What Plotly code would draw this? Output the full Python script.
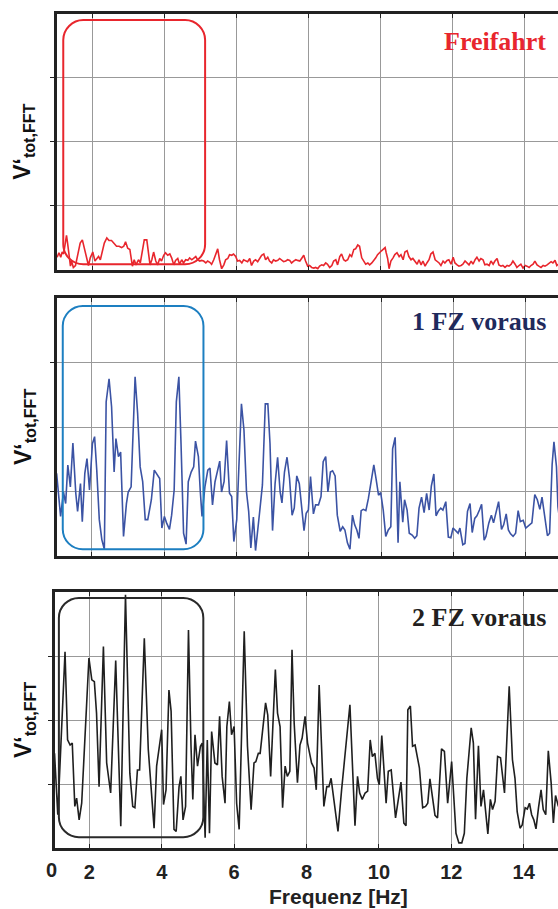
import plotly.graph_objects as go

W, H = 558, 909

# ---------------- data (frequency in Hz, amplitude in arbitrary units) ----------------
freifahrt = [(1.01,0.20),(1.06,0.27),(1.11,0.20),(1.15,0.28),(1.19,0.25),(1.23,0.39),(1.27,0.54),(1.30,0.42),(1.34,0.19),(1.38,0.06),
(1.41,0.14),(1.46,0.04),(1.52,0.07),(1.60,0.29),(1.65,0.42),(1.71,0.47),(1.77,0.34),(1.83,0.19),(1.88,0.07),(1.93,0.19),
(2.00,0.28),(2.06,0.14),(2.12,0.18),(2.16,0.21),(2.21,0.16),(2.27,0.32),(2.32,0.42),(2.39,0.50),(2.45,0.46),(2.52,0.46),
(2.59,0.42),(2.66,0.37),(2.73,0.37),(2.80,0.35),(2.86,0.37),(2.91,0.44),(2.97,0.34),(3.03,0.32),(3.10,0.06),(3.15,0.16),
(3.20,0.08),(3.27,0.16),(3.32,0.11),(3.38,0.32),(3.43,0.47),(3.50,0.47),(3.54,0.27),(3.59,0.08),(3.64,0.16),(3.69,0.28),
(3.75,0.14),(3.80,0.08),(3.86,0.18),(3.91,0.14),(3.97,0.23),(4.02,0.27),(4.08,0.23),(4.14,0.25),(4.19,0.19),(4.25,0.08),
(4.30,0.15),(4.36,0.18),(4.41,0.09),(4.47,0.16),(4.52,0.11),(4.58,0.16),(4.64,0.15),(4.69,0.19),(4.75,0.16),(4.80,0.18),
(4.86,0.21),(4.91,0.16),(4.97,0.14),(5.02,0.15),(5.08,0.14),(5.14,0.11),(5.19,0.14),(5.25,0.12),(5.30,0.09),(5.36,0.16),
(5.41,0.23),(5.47,0.33),(5.52,0.16),(5.58,0.02),(5.64,0.08),(5.69,0.16),(5.75,0.18),(5.80,0.24),(5.86,0.23),(5.91,0.25),
(5.97,0.21),(6.02,0.14),(6.08,0.15),(6.14,0.11),(6.19,0.16),(6.25,0.14),(6.30,0.13),(6.36,0.18),(6.41,0.07),(6.47,0.14),
(6.52,0.16),(6.58,0.13),(6.64,0.19),(6.69,0.23),(6.75,0.25),(6.80,0.16),(6.86,0.20),(6.91,0.14),(6.97,0.11),(7.02,0.16),
(7.08,0.14),(7.14,0.15),(7.19,0.18),(7.25,0.15),(7.30,0.13),(7.36,0.14),(7.41,0.16),(7.47,0.15),(7.52,0.11),(7.58,0.14),
(7.64,0.16),(7.69,0.15),(7.75,0.14),(7.80,0.18),(7.86,0.23),(7.91,0.14),(7.97,0.06),(8.02,0.07),(8.08,0.04),(8.14,0.03),
(8.19,0.04),(8.25,0.02),(8.30,0.06),(8.36,0.08),(8.41,0.07),(8.47,0.11),(8.52,0.09),(8.58,0.04),(8.64,0.07),(8.69,0.14),
(8.75,0.16),(8.80,0.08),(8.86,0.21),(8.91,0.25),(8.97,0.16),(9.02,0.14),(9.08,0.16),(9.14,0.24),(9.19,0.21),(9.25,0.32),
(9.30,0.33),(9.36,0.39),(9.41,0.37),(9.47,0.19),(9.52,0.14),(9.58,0.09),(9.64,0.11),(9.69,0.08),(9.75,0.11),(9.80,0.14),
(9.86,0.19),(9.91,0.24),(9.97,0.28),(10.02,0.30),(10.08,0.33),(10.12,0.35),(10.15,0.27),(10.19,0.18),(10.23,0.02),(10.28,0.14),
(10.34,0.19),(10.39,0.24),(10.45,0.27),(10.51,0.21),(10.56,0.24),(10.62,0.16),(10.67,0.28),(10.73,0.30),(10.78,0.21),(10.84,0.16),
(10.89,0.18),(10.95,0.14),(11.01,0.09),(11.06,0.16),(11.12,0.08),(11.17,0.14),(11.23,0.06),(11.28,0.11),(11.34,0.16),(11.39,0.25),
(11.45,0.28),(11.51,0.16),(11.56,0.14),(11.62,0.11),(11.67,0.07),(11.73,0.14),(11.78,0.11),(11.84,0.15),(11.89,0.16),(11.95,0.09),
(12.01,0.20),(12.06,0.11),(12.12,0.08),(12.17,0.06),(12.23,0.07),(12.28,0.09),(12.34,0.14),(12.39,0.11),(12.45,0.08),(12.51,0.14),
(12.56,0.09),(12.62,0.16),(12.67,0.20),(12.73,0.14),(12.78,0.18),(12.84,0.16),(12.89,0.08),(12.95,0.09),(13.01,0.07),(13.06,0.14),
(13.12,0.09),(13.17,0.14),(13.23,0.18),(13.28,0.08),(13.34,0.06),(13.39,0.07),(13.45,0.04),(13.51,0.07),(13.56,0.06),(13.62,0.09),
(13.67,0.14),(13.73,0.09),(13.78,0.04),(13.84,0.07),(13.89,0.09),(13.95,0.03),(14.01,0.07),(14.06,0.06),(14.12,0.04),(14.17,0.07),
(14.23,0.09),(14.28,0.14),(14.34,0.08),(14.39,0.06),(14.45,0.04),(14.51,0.07),(14.56,0.06),(14.62,0.08),(14.67,0.11),(14.73,0.13),
(14.78,0.11),(14.84,0.15),(14.89,0.07),(14.95,0.10)]

fz1_voraus = [(1.03,1.28),(1.10,0.87),(1.14,0.61),(1.22,0.99),(1.28,0.81),(1.34,1.41),(1.41,1.07),(1.48,1.75),(1.56,0.97),(1.61,0.69),
(1.69,1.12),(1.74,0.53),(1.81,1.28),(1.87,1.51),(1.94,1.02),(2.02,1.74),(2.08,1.85),(2.14,1.33),(2.21,0.56),(2.28,0.25),
(2.35,0.10),(2.40,2.39),(2.48,2.75),(2.55,2.31),(2.62,1.30),(2.67,1.82),(2.74,1.54),(2.80,1.61),(2.88,0.30),(2.96,0.81),
(3.01,0.99),(3.09,1.07),(3.20,2.78),(3.27,2.21),(3.34,1.38),(3.41,1.15),(3.48,0.56),(3.55,0.56),(3.65,0.87),(3.73,1.33),
(3.81,1.25),(3.88,1.20),(3.94,0.43),(4.01,0.61),(4.07,0.51),(4.15,0.41),(4.21,0.63),(4.28,1.02),(4.34,2.39),(4.41,2.78),
(4.47,1.74),(4.54,0.35),(4.61,0.18),(4.67,1.15),(4.75,1.30),(4.82,1.38),(4.87,1.78),(4.95,1.54),(5.00,1.02),(5.05,0.61),
(5.13,1.07),(5.21,1.33),(5.27,1.36),(5.34,0.79),(5.41,1.15),(5.46,1.28),(5.54,1.47),(5.59,0.99),(5.66,1.15),(5.73,1.79),
(5.81,0.97),(5.87,0.92),(5.93,0.22),(6.01,0.56),(6.07,1.54),(6.14,2.36),(6.21,1.95),(6.28,0.99),(6.34,0.69),(6.40,0.12),
(6.47,0.60),(6.53,0.08),(6.64,0.66),(6.72,1.10),(6.80,2.36),(6.87,2.36),(6.93,1.74),(7.00,0.39),(7.07,1.12),(7.14,1.53),
(7.21,0.99),(7.26,0.82),(7.33,1.30),(7.40,1.53),(7.47,1.20),(7.54,0.63),(7.60,0.74),(7.67,1.24),(7.74,1.12),(7.81,0.69),
(7.87,0.39),(7.93,0.66),(7.99,0.71),(8.05,1.23),(8.13,0.65),(8.19,0.79),(8.27,0.79),(8.34,0.92),(8.40,1.46),(8.47,1.54),
(8.53,0.99),(8.60,1.30),(8.66,1.32),(8.73,1.24),(8.79,0.63),(8.87,0.38),(8.94,0.45),(9.00,0.40),(9.07,0.20),(9.14,0.10),
(9.21,0.63),(9.27,0.48),(9.33,0.40),(9.39,0.27),(9.45,0.70),(9.51,0.72),(9.58,0.70),(9.65,0.89),(9.72,1.15),(9.80,1.41),
(9.86,1.20),(9.93,0.94),(9.99,0.98),(10.06,0.71),(10.13,0.30),(10.20,0.40),(10.27,0.45),(10.32,1.66),(10.39,1.84),(10.47,0.20),
(10.52,1.15),(10.60,0.52),(10.65,0.87),(10.72,0.71),(10.78,0.35),(10.86,0.32),(10.93,0.27),(10.99,0.31),(11.05,0.74),(11.12,0.91),
(11.19,0.67),(11.26,0.97),(11.33,0.71),(11.39,1.08),(11.46,1.27),(11.52,0.62),(11.58,0.69),(11.65,0.74),(11.71,0.71),(11.79,0.84),
(11.86,0.29),(11.93,0.28),(11.99,0.43),(12.05,0.40),(12.13,0.35),(12.18,0.43),(12.26,0.17),(12.32,0.19),(12.39,0.69),(12.46,0.81),
(12.52,0.36),(12.59,0.58),(12.65,0.62),(12.72,0.71),(12.78,0.80),(12.85,0.24),(12.90,0.30),(12.98,0.51),(13.05,0.63),(13.11,0.51),
(13.19,0.71),(13.25,0.84),(13.33,0.41),(13.39,0.48),(13.46,0.65),(13.52,0.40),(13.58,0.34),(13.65,0.30),(13.72,0.35),(13.79,0.70),
(13.85,0.53),(13.93,0.55),(14.00,0.43),(14.06,0.46),(14.17,0.51),(14.25,0.95),(14.32,0.87),(14.39,0.72),(14.45,0.91),(14.52,0.63),
(14.60,0.31),(14.66,0.35),(14.73,1.42),(14.78,1.77),(14.85,1.38),(14.89,0.76),(14.95,0.50)]

fz2_voraus = [(1.04,1.48),(1.13,0.52),(1.33,3.07),(1.40,1.69),(1.47,1.61),(1.53,1.64),(1.60,0.65),(1.65,0.78),(1.72,0.44),(1.79,0.70),
(1.99,2.97),(2.07,2.63),(2.14,2.60),(2.20,2.11),(2.27,0.96),(2.39,3.15),(2.48,1.33),(2.59,0.86),(2.73,2.93),(2.87,0.34),
(3.00,3.96),(3.12,1.17),(3.20,0.65),(3.26,0.63),(3.33,1.22),(3.39,1.22),(3.52,3.28),(3.63,1.54),(3.79,0.31),(3.86,1.28),
(4.00,1.85),(4.05,0.68),(4.12,0.91),(4.20,2.47),(4.26,2.14),(4.34,0.29),(4.40,0.26),(4.48,0.96),(4.53,1.12),(4.59,0.44),
(4.66,0.65),(4.74,3.41),(4.81,1.59),(4.86,0.76),(4.92,1.77),(4.99,1.28),(5.07,1.59),(5.12,1.64),(5.20,0.16),(5.26,1.69),
(5.32,0.23),(5.38,1.82),(5.47,1.33),(5.54,1.30),(5.60,2.06),(5.67,1.12),(5.75,0.70),(5.80,1.90),(5.87,2.29),(5.93,1.77),
(6.00,1.90),(6.07,0.70),(6.14,0.29),(6.28,3.39),(6.37,1.59),(6.47,0.60),(6.55,1.33),(6.60,1.35),(6.67,1.48),(6.72,1.48),
(6.87,2.27),(6.93,2.08),(7.01,1.12),(7.14,2.79),(7.20,2.11),(7.27,1.90),(7.34,0.63),(7.41,1.28),(7.47,1.12),(7.54,1.20),
(7.60,3.10),(7.66,1.95),(7.75,1.02),(7.82,1.61),(7.88,1.72),(7.96,2.06),(8.03,1.64),(8.14,1.33),(8.21,1.25),(8.27,0.91),
(8.35,2.55),(8.48,0.65),(8.56,0.96),(8.62,0.96),(8.68,1.09),(8.77,0.70),(8.87,0.26),(8.97,0.91),(9.08,1.59),(9.20,2.24),
(9.34,0.35),(9.41,1.12),(9.47,0.86),(9.54,0.76),(9.62,0.86),(9.69,0.89),(9.76,1.69),(9.82,1.43),(9.89,1.48),(9.96,1.09),
(10.01,0.99),(10.08,1.76),(10.20,0.70),(10.26,1.20),(10.34,1.22),(10.46,0.47),(10.61,1.03),(10.69,0.39),(10.75,0.35),(10.80,2.16),
(10.87,2.22),(10.93,1.59),(11.00,1.61),(11.12,1.25),(11.21,0.63),(11.29,0.65),(11.35,0.70),(11.41,1.08),(11.55,0.51),(11.62,0.47),
(11.73,1.55),(11.81,1.51),(11.90,0.70),(12.01,1.35),(12.13,0.23),(12.21,0.08),(12.29,0.08),(12.36,0.23),(12.43,1.09),(12.55,1.88),
(12.61,1.64),(12.67,0.45),(12.75,1.60),(12.82,0.65),(12.89,0.91),(13.01,0.22),(13.08,0.76),(13.14,0.60),(13.21,0.73),(13.28,1.43),
(13.36,1.41),(13.47,0.86),(13.60,2.53),(13.69,1.38),(13.76,1.09),(13.82,0.57),(13.90,0.31),(13.96,0.36),(14.04,0.63),(14.10,0.61),
(14.16,0.70),(14.22,0.52),(14.28,0.44),(14.34,0.30),(14.41,0.63),(14.48,0.91),(14.54,0.60),(14.61,0.52),(14.68,1.52),(14.76,1.01),
(14.82,0.39),(14.88,0.82),(14.96,0.65)]

series = [freifahrt, fz1_voraus, fz2_voraus]
panel_titles = ["Freifahrt", "1 FZ voraus", "2 FZ voraus"]
x_tick_vals = [2, 4, 6, 8, 10, 12, 14]
x_tick_text = ["2", "4", "6", "8", "10", "12", "14"]
origin_label = "0"
y_grid_vals = [1, 2, 3]
y_title = "V‘<sub>tot,FFT</sub>"
x_title = "Frequenz [Hz]"
# highlighted frequency window per panel (f0, f1, a0, a1)
windows = [(1.18, 5.12, 0.09, 3.90), (1.20, 5.09, 0.10, 3.88), (1.16, 5.15, 0.17, 3.91)]

# ---------------- styling / layout ----------------
line_colors = ["#e8262d", "#3b53a4", "#1f1f1f"]
box_colors = ["#e8262d", "#1d7fc1", "#2a2a2a"]
title_colors = ["#e8262d", "#1f2a5c", "#231f20"]

# pixel geometry of each panel (left, top, bottom) and x-ranges
panel_px = [(57.0, 13.7, 270.0), (56.5, 298.3, 555.7), (54.5, 592.2, 848.0)]
x_ranges = [(1.006, 14.922), (1.027, 14.892), (1.039, 14.948)]
y_range = (0, 4)

def rounded_path(x0, x1, y0, y1, rx, ry):
    k = 0.5523
    return (
        f"M {x0+rx},{y1} L {x1-rx},{y1} "
        f"C {x1-rx+k*rx},{y1} {x1},{y1-ry+k*ry} {x1},{y1-ry} "
        f"L {x1},{y0+ry} "
        f"C {x1},{y0+ry-k*ry} {x1-rx+k*rx},{y0} {x1-rx},{y0} "
        f"L {x0+rx},{y0} "
        f"C {x0+rx-k*rx},{y0} {x0},{y0+ry-k*ry} {x0},{y0+ry} "
        f"L {x0},{y1-ry} "
        f"C {x0},{y1-ry+k*ry} {x0+rx-k*rx},{y1} {x0+rx},{y1} Z"
    )

fig = go.Figure()
layout = dict(
    width=W, height=H,
    margin=dict(l=0, r=0, t=0, b=0),
    paper_bgcolor="white", plot_bgcolor="white",
    showlegend=False,
    shapes=[], annotations=[],
)

grid_color = "#999999"
frame_color = "#222222"

for i, pts in enumerate(series):
    n = "" if i == 0 else str(i + 1)
    xa, ya = "x" + n, "y" + n
    left, top, bottom = panel_px[i]
    fig.add_trace(go.Scatter(
        x=[p[0] for p in pts], y=[p[1] for p in pts],
        mode="lines", line=dict(color=line_colors[i], width=1.6),
        xaxis=xa, yaxis=ya, hoverinfo="skip",
    ))
    is_bottom = (i == 2)
    layout["xaxis" + n] = dict(
        domain=[left / W, 1.0], range=list(x_ranges[i]), anchor=ya,
        tickvals=x_tick_vals,
        ticktext=["<b>" + t + "</b>" for t in x_tick_text],
        showticklabels=is_bottom,
        tickfont=dict(family="Liberation Sans, Arial", size=20, color="#222222"),
        ticks="inside", ticklen=4, tickcolor=frame_color, tickwidth=1,
        showline=True, linewidth=3, linecolor=frame_color, mirror="ticks",
        showgrid=True, gridcolor=grid_color, gridwidth=1.2, zeroline=False,
        ticklabelstandoff=4,
    )
    layout["yaxis" + n] = dict(
        domain=[1 - bottom / H, 1 - top / H], range=list(y_range), anchor=xa,
        tickvals=y_grid_vals, showticklabels=False,
        ticks="outside", ticklen=4, tickcolor=frame_color, tickwidth=1,
        showline=True, linewidth=3, linecolor=frame_color, mirror=False,
        showgrid=True, gridcolor=grid_color, gridwidth=1.2, zeroline=False,
    )
    f0, f1, a0, a1 = windows[i]
    px_per_hz = (W - left) / (x_ranges[i][1] - x_ranges[i][0])
    px_per_unit = (bottom - top) / (y_range[1] - y_range[0])
    layout["shapes"].append(dict(
        type="path", xref=xa, yref=ya, layer="above",
        path=rounded_path(f0, f1, a0, a1, 20 / px_per_hz, 20 / px_per_unit),
        line=dict(color=box_colors[i], width=2), fillcolor="rgba(0,0,0,0)",
    ))
    # panel title
    title_y = [41, 322, 617][i]
    layout["annotations"].append(dict(
        text="<b>" + panel_titles[i] + "</b>", xref="paper", yref="paper",
        x=548 / W, y=1 - title_y / H, xanchor="right", yanchor="middle",
        showarrow=False,
        font=dict(family="Liberation Serif, Times New Roman", size=26, color=title_colors[i]),
    ))
    # y title
    layout["annotations"].append(dict(
        text="<b>" + y_title + "</b>", xref="paper", yref="paper",
        x=24 / W, y=1 - ((top + bottom) / 2) / H, xanchor="center", yanchor="middle",
        textangle=-90, showarrow=False,
        font=dict(family="Liberation Sans, Arial", size=23, color="#111111"),
    ))

# "0" label at the left end of the frequency axis
layout["annotations"].append(dict(
    text="<b>" + origin_label + "</b>", xref="paper", yref="paper",
    x=51 / W, y=1 - 870 / H, xanchor="center", yanchor="middle", showarrow=False,
    font=dict(family="Liberation Sans, Arial", size=20, color="#222222"),
))
# x-axis title
layout["annotations"].append(dict(
    text="<b>" + x_title + "</b>", xref="paper", yref="paper",
    x=338 / W, y=1 - 896 / H, xanchor="center", yanchor="middle", showarrow=False,
    font=dict(family="Liberation Sans, Arial", size=21, color="#222222"),
))

fig.update_layout(**layout)
fig.write_html("out.html")
